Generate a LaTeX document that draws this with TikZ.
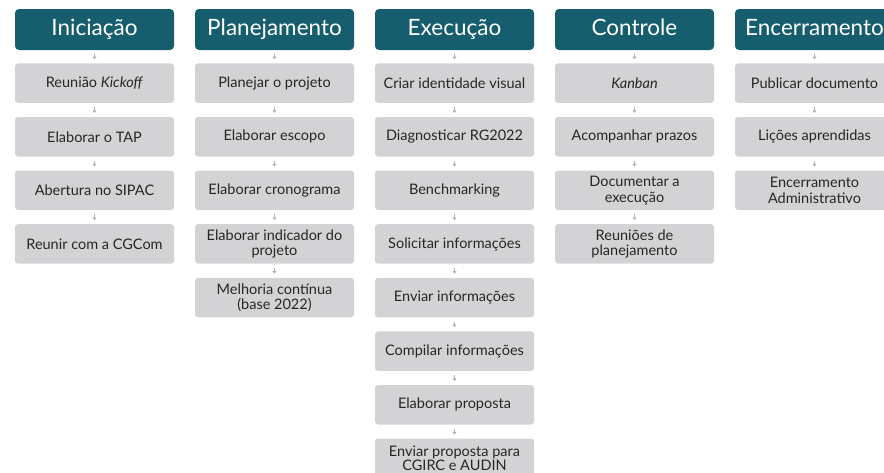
\documentclass[tikz,border=0pt]{standalone}
\usepackage{fontspec}
\setmainfont{Lato}
\usetikzlibrary{positioning,arrows.meta}
\definecolor{headteal}{HTML}{165E6E}
\definecolor{boxgray}{HTML}{D3D3D5}
\definecolor{arrgray}{HTML}{B0B0B0}
\definecolor{txtgray}{HTML}{262626}
\begin{document}
\begin{tikzpicture}[x=1pt, y=-1pt,
    phase/.style={fill=headteal, rounded corners=4pt, minimum width=159pt, minimum height=41pt,
        inner sep=0pt, text=white, text height=16pt, text depth=5pt,
        font=\fontsize{22.5}{24}\selectfont},
    task/.style={fill=boxgray, rounded corners=3pt, minimum width=159pt, minimum height=39.5pt,
        inner sep=0pt, align=center, text=txtgray, font=\fontsize{14.5}{15.5}\selectfont},
    flow/.style={draw=arrgray, line width=1.5pt, -{Triangle[width=4pt,length=2.5pt]},
        shorten <=4pt, shorten >=4pt}]
    \useasboundingbox (0,0) rectangle (884,472);
    \clip (0,0) rectangle (884,472);

    % Phase headers
    \node[phase] (ini) at (94.5,29.5) {Iniciação};
    \node[phase] (pla) at (274.5,29.5) {Planejamento};
    \node[phase] (exe) at (454.5,29.5) {Execução};
    \node[phase] (con) at (634.5,29.5) {Controle};
    \node[phase] (enc) at (814.5,29.5) {Encerramento};

    % Iniciação
    \node[task, below=13pt of ini] (ini1) {Reunião \textit{Kickoff}};
    \node[task, below=13.7pt of ini1] (ini2) {Elaborar o TAP};
    \node[task, below=13.7pt of ini2] (ini3) {Abertura no SIPAC};
    \node[task, below=13.7pt of ini3] (ini4) {Reunir com a CGCom};
    \draw[flow] (ini) -- (ini1);
    \draw[flow] (ini1) -- (ini2);
    \draw[flow] (ini2) -- (ini3);
    \draw[flow] (ini3) -- (ini4);

    % Planejamento
    \node[task, below=13pt of pla] (pla1) {Planejar o projeto};
    \node[task, below=13.7pt of pla1] (pla2) {Elaborar escopo};
    \node[task, below=13.7pt of pla2] (pla3) {Elaborar cronograma};
    \node[task, below=13.7pt of pla3] (pla4) {Elaborar indicador do\\projeto};
    \node[task, below=13.7pt of pla4] (pla5) {Melhoria contínua\\(base 2022)};
    \draw[flow] (pla) -- (pla1);
    \draw[flow] (pla1) -- (pla2);
    \draw[flow] (pla2) -- (pla3);
    \draw[flow] (pla3) -- (pla4);
    \draw[flow] (pla4) -- (pla5);

    % Execução
    \node[task, below=13pt of exe] (exe1) {Criar identidade visual};
    \node[task, below=13.7pt of exe1] (exe2) {Diagnosticar RG2022};
    \node[task, below=13.7pt of exe2] (exe3) {Benchmarking};
    \node[task, below=13.7pt of exe3] (exe4) {Solicitar informações};
    \node[task, below=13.7pt of exe4] (exe5) {Enviar informações};
    \node[task, below=13.7pt of exe5] (exe6) {Compilar informações};
    \node[task, below=13.7pt of exe6] (exe7) {Elaborar proposta};
    \node[task, below=13.7pt of exe7, font=\fontsize{14.5}{14}\selectfont] (exe8) {Enviar proposta para\\CGIRC e AUDIN};
    \draw[flow] (exe) -- (exe1);
    \draw[flow] (exe1) -- (exe2);
    \draw[flow] (exe2) -- (exe3);
    \draw[flow] (exe3) -- (exe4);
    \draw[flow] (exe4) -- (exe5);
    \draw[flow] (exe5) -- (exe6);
    \draw[flow] (exe6) -- (exe7);
    \draw[flow] (exe7) -- (exe8);

    % Controle
    \node[task, below=13pt of con] (con1) {\textit{Kanban}};
    \node[task, below=13.7pt of con1] (con2) {Acompanhar prazos};
    \node[task, below=13.7pt of con2] (con3) {Documentar a\\execução};
    \node[task, below=13.7pt of con3] (con4) {Reuniões de\\planejamento};
    \draw[flow] (con) -- (con1);
    \draw[flow] (con1) -- (con2);
    \draw[flow] (con2) -- (con3);
    \draw[flow] (con3) -- (con4);

    % Encerramento
    \node[task, below=13pt of enc] (enc1) {Publicar documento};
    \node[task, below=13.7pt of enc1] (enc2) {Lições aprendidas};
    \node[task, below=13.7pt of enc2] (enc3) {Encerramento\\Administrativo};
    \draw[flow] (enc) -- (enc1);
    \draw[flow] (enc1) -- (enc2);
    \draw[flow] (enc2) -- (enc3);
\end{tikzpicture}
\end{document}
